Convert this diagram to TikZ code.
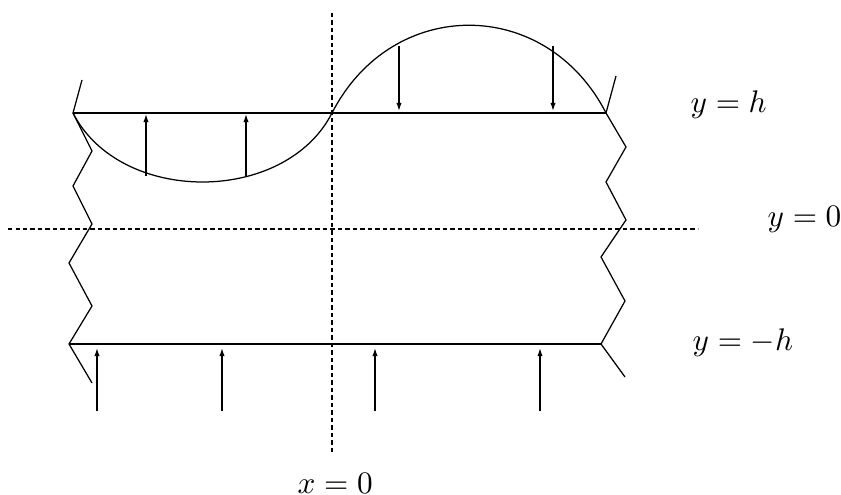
\documentclass[tikz,border=0pt]{standalone}
\usetikzlibrary{arrows.meta}
\begin{document}
\begin{tikzpicture}[x=0.32pt,y=-0.32pt,
  line width=0.4pt,
  guide/.style={dash pattern=on 1.4pt off 1pt, line width=0.35pt},
  force/.style={-{Latex[length=2.6pt,width=1.7pt]}, line width=0.4pt},
  lbl/.style={inner sep=0pt, anchor=base west}]
\useasboundingbox (0,0) rectangle (841,495);
% left zigzag
\coordinate (L0) at (82,80);
\coordinate (L1) at (73,113);
\coordinate (L2) at (92,151);
\coordinate (L3) at (73,186);
\coordinate (L4) at (92,224);
\coordinate (L5) at (69,263);
\coordinate (L6) at (92,306);
\coordinate (L7) at (69,344);
\coordinate (L8) at (92,383);
% right zigzag
\coordinate (R0) at (616,76);
\coordinate (R1) at (606,113);
\coordinate (R2) at (626,147);
\coordinate (R3) at (606,182);
\coordinate (R4) at (626,220);
\coordinate (R5) at (601,257);
\coordinate (R6) at (625,301);
\coordinate (R7) at (601,344);
\coordinate (R8) at (625,377);
\coordinate (C) at (332,113);
\draw (L0) -- (L1) -- (L2) -- (L3) -- (L4) -- (L5) -- (L6) -- (L7) -- (L8);
\draw (R0) -- (R1) -- (R2) -- (R3) -- (R4) -- (R5) -- (R6) -- (R7) -- (R8);
% walls
\draw (L1) -- (R1);
\draw (L7) -- (R7);
% wavy curve
\draw (L1) .. controls (120,205) and (285,205) .. (C)
           .. controls (392,-4) and (546,-4) .. (R1);
% axes
\coordinate (hl) at (8,229);
\coordinate (hr) at (698,229);
\coordinate (vt) at (332,13);
\coordinate (vb) at (332,453);
\draw[guide] (hl) -- (hr);
\draw[guide] (vt) -- (vb);
% upward arrows on upper wall
\coordinate (u1s) at (146,176); \coordinate (u1e) at (146,114);
\coordinate (u2s) at (246,176); \coordinate (u2e) at (246,114);
\draw[force] (u1s) -- (u1e);
\draw[force] (u2s) -- (u2e);
% downward arrows on upper wall
\coordinate (d1s) at (399,46); \coordinate (d1e) at (399,111);
\coordinate (d2s) at (553,46); \coordinate (d2e) at (553,111);
\draw[force] (d1s) -- (d1e);
\draw[force] (d2s) -- (d2e);
% upward arrows below lower wall
\coordinate (b1s) at (97,411);  \coordinate (b1e) at (97,348);
\coordinate (b2s) at (222,411); \coordinate (b2e) at (222,348);
\coordinate (b3s) at (375,411); \coordinate (b3e) at (375,348);
\coordinate (b4s) at (540,411); \coordinate (b4e) at (540,348);
\draw[force] (b1s) -- (b1e);
\draw[force] (b2s) -- (b2e);
\draw[force] (b3s) -- (b3e);
\draw[force] (b4s) -- (b4e);
% labels
\node[lbl] (yh) at (690,113) {$y=h$};
\node[lbl] (y0) at (767,227) {$y=0$};
\node[lbl] (ymh) at (692,351) {$y=-h$};
\node[lbl] (x0) at (297,493) {$x=0$};
\end{tikzpicture}
\end{document}
